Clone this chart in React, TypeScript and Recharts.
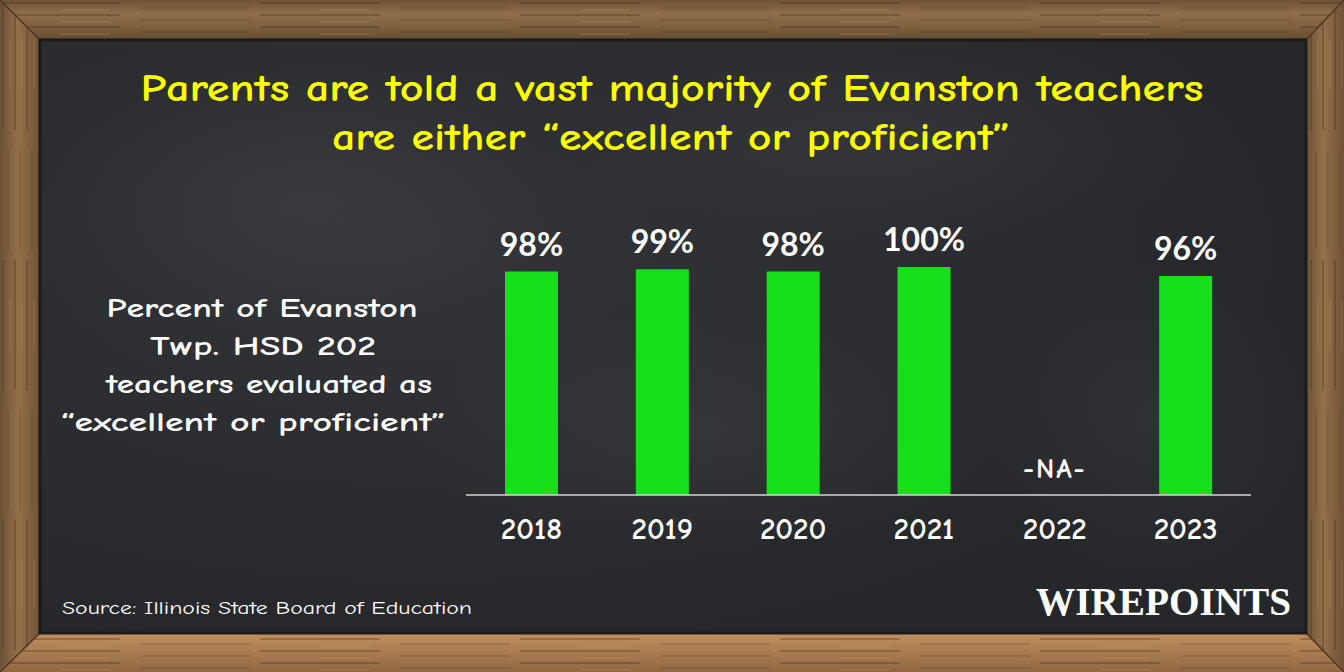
import React from 'react';
import { BarChart, Bar, XAxis, YAxis, LabelList, ReferenceDot } from 'recharts';

const years = ['2018', '2019', '2020', '2021', '2022', '2023'];
const pctExcellent: (number | null)[] = [98, 99, 98, 100, null, 96];

const titleLines = [
  'Parents are told a vast majority of Evanston teachers',
  'are either \u201cexcellent or proficient\u201d',
];
const sideLabelLines = [
  'Percent of Evanston',
  'Twp. HSD 202',
  'teachers evaluated as',
  '\u201cexcellent or proficient\u201d',
];
const sourceText = 'Source: Illinois State Board of Education';
const brandText = 'WIREPOINTS';
const missingLabel = '-NA-';

const data = years.map((year, i) => ({ year, value: pctExcellent[i] }));
const missingYears = years.filter((_, i) => pctExcellent[i] == null);

const W = 1344;
const H = 672;
const chalkFont = '"Comic Sans MS", "Comic Neue", "Open Sans", sans-serif';

const ValueLabel = (props: any) => {
  const { x, y, width, value } = props;
  if (x == null || value == null) return null;
  const cx = Number(x) + Number(width) / 2;
  return (
    <text x={cx} y={Number(y) - 16} textAnchor="middle" fill="#ffffff"
      fontFamily="Lato, 'Open Sans', sans-serif" fontWeight={700} fontSize={32}>
      {value}%
    </text>
  );
};

const Background = () => (
  <svg width={W} height={H} style={{ position: 'absolute', left: 0, top: 0 }}>
    <defs>
      <linearGradient id="woodH" x1="0" y1="0" x2="0" y2="1">
        <stop offset="0%" stopColor="#6f5438" />
        <stop offset="35%" stopColor="#8f6e4a" />
        <stop offset="70%" stopColor="#7d5e3e" />
        <stop offset="100%" stopColor="#634a30" />
      </linearGradient>
      <linearGradient id="woodB" x1="0" y1="0" x2="0" y2="1">
        <stop offset="0%" stopColor="#c08f5c" />
        <stop offset="50%" stopColor="#a97c50" />
        <stop offset="100%" stopColor="#8f6844" />
      </linearGradient>
      <linearGradient id="woodV" x1="0" y1="0" x2="1" y2="0">
        <stop offset="0%" stopColor="#6c5138" />
        <stop offset="45%" stopColor="#957049" />
        <stop offset="100%" stopColor="#6f5236" />
      </linearGradient>
      <radialGradient id="smudge1" cx="0.3" cy="0.35" r="0.7">
        <stop offset="0%" stopColor="#333437" />
        <stop offset="100%" stopColor="#26272a" />
      </radialGradient>
      <radialGradient id="chalk" cx="0.5" cy="0.5" r="0.5">
        <stop offset="0%" stopColor="#5a5c60" stopOpacity={0.18} />
        <stop offset="100%" stopColor="#5a5c60" stopOpacity={0} />
      </radialGradient>
      <pattern id="grainH" width="260" height="12" patternUnits="userSpaceOnUse">
        <line x1="0" y1="3" x2="120" y2="3" stroke="#3e2a1a" strokeOpacity="0.4" strokeWidth="1.5" />
        <line x1="140" y1="8" x2="250" y2="8" stroke="#3e2a1a" strokeOpacity="0.35" strokeWidth="1" />
        <line x1="60" y1="10" x2="110" y2="10" stroke="#e0b07a" strokeOpacity="0.25" strokeWidth="1" />
      </pattern>
      <pattern id="grainV" width="12" height="260" patternUnits="userSpaceOnUse">
        <line x1="3" y1="0" x2="3" y2="130" stroke="#3e2a1a" strokeOpacity="0.4" strokeWidth="1.5" />
        <line x1="8" y1="150" x2="8" y2="250" stroke="#3e2a1a" strokeOpacity="0.35" strokeWidth="1" />
        <line x1="10" y1="40" x2="10" y2="90" stroke="#e0b07a" strokeOpacity="0.25" strokeWidth="1" />
      </pattern>
    </defs>
    {/* wood frame */}
    <rect x={0} y={0} width={W} height={H} fill="url(#woodV)" />
    <polygon points={`0,0 ${W},0 ${W - 38},40 40,40`} fill="url(#woodH)" />
    <polygon points={`40,633 ${W - 38},633 ${W},${H} 0,${H}`} fill="url(#woodB)" />
    <polygon points={`0,0 40,40 40,633 0,${H}`} fill="url(#woodV)" />
    <polygon points={`${W},0 ${W - 38},40 ${W - 38},633 ${W},${H}`} fill="url(#woodV)" />
    <polygon points={`0,0 ${W},0 ${W - 38},40 40,40`} fill="url(#grainH)" />
    <polygon points={`40,633 ${W - 38},633 ${W},${H} 0,${H}`} fill="url(#grainH)" />
    <polygon points={`0,0 40,40 40,633 0,${H}`} fill="url(#grainV)" />
    <polygon points={`${W},0 ${W - 38},40 ${W - 38},633 ${W},${H}`} fill="url(#grainV)" />
    <line x1={0} y1={0} x2={40} y2={40} stroke="#4e3620" strokeWidth={1.5} />
    <line x1={W} y1={0} x2={W - 38} y2={40} stroke="#4e3620" strokeWidth={1.5} />
    <line x1={0} y1={H} x2={40} y2={633} stroke="#4e3620" strokeWidth={1.5} />
    <line x1={W} y1={H} x2={W - 38} y2={633} stroke="#4e3620" strokeWidth={1.5} />
    {/* chalkboard */}
    <rect x={40} y={40} width={W - 78} height={593} fill="url(#smudge1)" />
    <ellipse cx={300} cy={200} rx={260} ry={140} fill="url(#chalk)" />
    <ellipse cx={900} cy={140} rx={320} ry={110} fill="url(#chalk)" />
    <ellipse cx={700} cy={430} rx={300} ry={120} fill="url(#chalk)" />
    <ellipse cx={1150} cy={420} rx={160} ry={160} fill="url(#chalk)" />
    <rect x={40} y={40} width={W - 78} height={593} fill="none" stroke="#1a1a1b" strokeWidth={3} />
  </svg>
);

const Overlay = () => (
  <svg width={W} height={H} style={{ position: 'absolute', left: 0, top: 0, pointerEvents: 'none' }}>
    <text x={672} y={101} textAnchor="middle" fill="#ffff00" fontFamily={chalkFont}
      fontWeight={700} fontSize={38} textLength={1063} lengthAdjust="spacingAndGlyphs">
      {titleLines[0]}
    </text>
    <text x={671} y={150} textAnchor="middle" fill="#ffff00" fontFamily={chalkFont}
      fontWeight={700} fontSize={38} textLength={678} lengthAdjust="spacingAndGlyphs">
      {titleLines[1]}
    </text>
    {sideLabelLines.map((line, i) => (
      <text key={line} x={[262, 263, 269, 253][i]} y={317 + i * 38} textAnchor="middle"
        fill="#ffffff" fontFamily={chalkFont} fontWeight={700} fontSize={26}
        textLength={[311, 226, 326, 385][i]} lengthAdjust="spacingAndGlyphs">
        {line}
      </text>
    ))}
    <text x={62} y={614} fill="#ffffff" fontFamily={chalkFont} fontSize={19}
      textLength={410} lengthAdjust="spacingAndGlyphs">
      {sourceText}
    </text>
    <text x={1036} y={615} fill="#ffffff" fontFamily='"Liberation Serif", serif' fontWeight={700}
      fontSize={41} textLength={255} lengthAdjust="spacingAndGlyphs">
      {brandText}
    </text>
  </svg>
);

export default function App() {
  return (
    <div style={{ position: 'absolute', left: 0, top: 0, width: W, height: H, overflow: 'hidden' }}>
      <Background />
      <div style={{ position: 'absolute', left: 0, top: 0 }}>
        <BarChart width={W} height={H} data={data}
          margin={{ top: 267, right: 93, left: 466, bottom: 117 }}>
          <XAxis dataKey="year" height={60} tickLine={false}
            axisLine={{ stroke: '#d4d4d4', strokeWidth: 1.5 }}
            tickMargin={16}
            tick={{ fill: '#ffffff', fontSize: 31, fontWeight: 800, fontFamily: chalkFont }} />
          <YAxis hide domain={[0, 100]} />
          <Bar dataKey="value" fill="#16e01c" barSize={53} isAnimationActive={false}>
            <LabelList dataKey="value" content={ValueLabel} />
          </Bar>
          {missingYears.map((yr) => (
            <ReferenceDot key={yr} x={yr} y={0} r={0} fill="none" stroke="none"
              label={{ value: missingLabel, position: 'top', offset: 17, fill: '#ffffff',
                fontSize: 28, fontWeight: 700, fontFamily: chalkFont, letterSpacing: 2 }} />
          ))}
        </BarChart>
      </div>
      <Overlay />
    </div>
  );
}
